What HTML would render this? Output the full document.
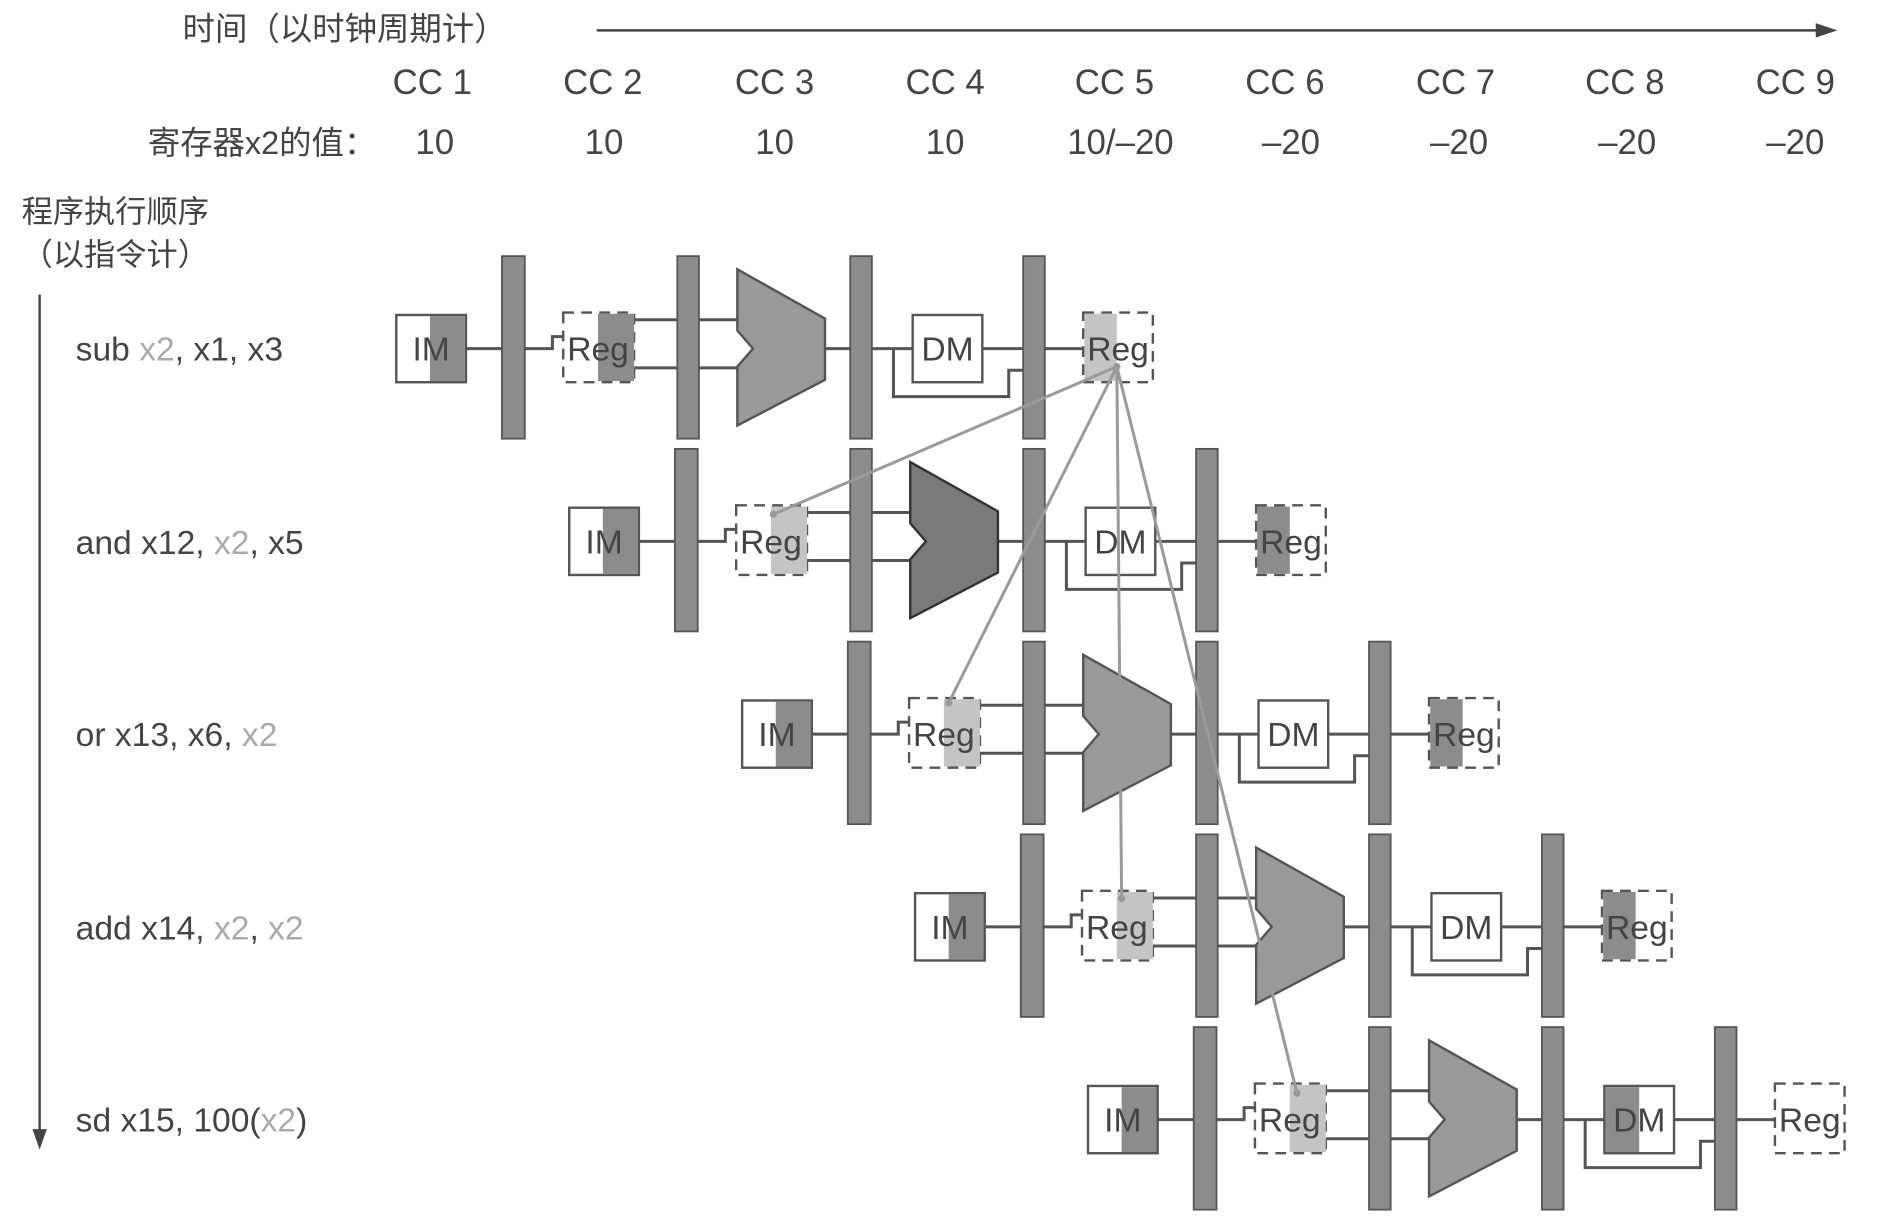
<!DOCTYPE html>
<html><head><meta charset="utf-8"><style>
html,body{margin:0;padding:0;background:#fff}
svg{display:block}
text{font-family:"Liberation Sans","Noto Sans CJK SC",sans-serif;fill:#444}
.w{fill:none;stroke:#555;stroke-width:2.5}
.bar{fill:#8c8c8c;stroke:#555;stroke-width:1.5}
.box{fill:#fff;stroke:#555;stroke-width:2}
.dash{fill:#fff;stroke:#555;stroke-width:2;stroke-dasharray:9,6}
.dk{fill:#8c8c8c}
.lt{fill:#c4c4c4}
.alu{fill:#999;stroke:#555;stroke-width:2}
.u{font-size:28px;text-anchor:middle}
.g{fill:#aaa}
.dep{stroke:#9a9a9a;stroke-width:2.5;fill:none}
</style></head><body>
<svg width="1883" height="1228" viewBox="0 0 1568 1022" xmlns="http://www.w3.org/2000/svg">
<text x="152" y="33" font-size="27">时间（以时钟周期计）</text>
<path d="M497 25H1520" stroke="#444" stroke-width="2"/>
<path d="M1530 25L1512 19V31Z" fill="#444"/>
<g font-size="29" text-anchor="middle">
<text x="360" y="78">CC 1</text><text x="502" y="78">CC 2</text><text x="645" y="78">CC 3</text><text x="787" y="78">CC 4</text><text x="928" y="78">CC 5</text><text x="1070" y="78">CC 6</text><text x="1212" y="78">CC 7</text><text x="1353" y="78">CC 8</text><text x="1495" y="78">CC 9</text>
<text x="362" y="128">10</text><text x="503" y="128">10</text><text x="645" y="128">10</text><text x="787" y="128">10</text><text x="933" y="128">10/–20</text><text x="1075" y="128">–20</text><text x="1215" y="128">–20</text><text x="1355" y="128">–20</text><text x="1495" y="128">–20</text>
</g>
<text x="123" y="128" font-size="27">寄存器x2的值：</text>
<text x="18" y="185" font-size="26">程序执行顺序</text>
<text x="18" y="221" font-size="26">（以指令计）</text>
<path d="M33 245V945" stroke="#444" stroke-width="2"/>
<path d="M33 957L27 940H39Z" fill="#444"/>
<g font-size="28">
<text x="63" y="300">sub <tspan class="g">x2</tspan>, x1, x3</text>
<text x="63" y="461">and x12, <tspan class="g">x2</tspan>, x5</text>
<text x="63" y="621">or x13, x6, <tspan class="g">x2</tspan></text>
<text x="63" y="782">add x14, <tspan class="g">x2</tspan>, <tspan class="g">x2</tspan></text>
<text x="63" y="942">sd x15, 100(<tspan class="g">x2</tspan>)</text>
</g>

<!-- Row 1 -->
<g>
<path class="w" d="M388 290H418M437 290H460V280H469M528 266H614M528 306H614M687 290H760M818 290H852M744 290V330H840V308H852M870 290H902"/>
<rect class="box" x="330" y="262" width="58" height="56"/><rect class="dk" x="358" y="263" width="29" height="54"/><text class="u" x="359" y="300">IM</text>
<rect class="bar" x="418" y="213" width="19" height="152"/><rect class="bar" x="564" y="213" width="18" height="152"/><rect class="bar" x="708" y="213" width="18" height="152"/><rect class="bar" x="852" y="213" width="18" height="152"/>
<rect class="dash" x="469" y="260" width="59" height="58"/><rect class="dk" x="498" y="261" width="30" height="56"/><text class="u" x="498" y="300">Reg</text>
<polygon class="alu" points="614,224 687,265 687,316 614,354 614,305 627,290 614,275"/>
<rect class="box" x="760" y="262" width="58" height="56"/><text class="u" x="789" y="300">DM</text>
<rect class="dash" x="902" y="260" width="58" height="58"/><rect class="lt" x="903" y="261" width="27" height="56"/><text class="u" x="931" y="300">Reg</text>
</g>
<!-- Row 2 -->
<g transform="translate(144,160.5)">
<path class="w" d="M388 290H418M437 290H460V280H469M528 266H614M528 306H614M687 290H760M818 290H852M744 290V330H840V308H852M870 290H902"/>
<rect class="box" x="330" y="262" width="58" height="56"/><rect class="dk" x="358" y="263" width="29" height="54"/><text class="u" x="359" y="300">IM</text>
<rect class="bar" x="418" y="213" width="19" height="152"/><rect class="bar" x="564" y="213" width="18" height="152"/><rect class="bar" x="708" y="213" width="18" height="152"/><rect class="bar" x="852" y="213" width="18" height="152"/>
<rect class="dash" x="469" y="260" width="59" height="58"/><rect class="lt" x="498" y="261" width="30" height="56"/><text class="u" x="498" y="300">Reg</text>
<polygon class="alu" style="fill:#7a7a7a;stroke:#333" points="614,224 687,265 687,316 614,354 614,305 627,290 614,275"/>
<rect class="box" x="760" y="262" width="58" height="56"/><text class="u" x="789" y="300">DM</text>
<rect class="dash" x="902" y="260" width="58" height="58"/><rect class="dk" x="903" y="261" width="27" height="56"/><text class="u" x="931" y="300">Reg</text>
</g>
<!-- Row 3 -->
<g transform="translate(288,321)">
<path class="w" d="M388 290H418M437 290H460V280H469M528 266H614M528 306H614M687 290H760M818 290H852M744 290V330H840V308H852M870 290H902"/>
<rect class="box" x="330" y="262" width="58" height="56"/><rect class="dk" x="358" y="263" width="29" height="54"/><text class="u" x="359" y="300">IM</text>
<rect class="bar" x="418" y="213" width="19" height="152"/><rect class="bar" x="564" y="213" width="18" height="152"/><rect class="bar" x="708" y="213" width="18" height="152"/><rect class="bar" x="852" y="213" width="18" height="152"/>
<rect class="dash" x="469" y="260" width="59" height="58"/><rect class="lt" x="498" y="261" width="30" height="56"/><text class="u" x="498" y="300">Reg</text>
<polygon class="alu" points="614,224 687,265 687,316 614,354 614,305 627,290 614,275"/>
<rect class="box" x="760" y="262" width="58" height="56"/><text class="u" x="789" y="300">DM</text>
<rect class="dash" x="902" y="260" width="58" height="58"/><rect class="dk" x="903" y="261" width="27" height="56"/><text class="u" x="931" y="300">Reg</text>
</g>
<!-- Row 4 -->
<g transform="translate(432,481.5)">
<path class="w" d="M388 290H418M437 290H460V280H469M528 266H614M528 306H614M687 290H760M818 290H852M744 290V330H840V308H852M870 290H902"/>
<rect class="box" x="330" y="262" width="58" height="56"/><rect class="dk" x="358" y="263" width="29" height="54"/><text class="u" x="359" y="300">IM</text>
<rect class="bar" x="418" y="213" width="19" height="152"/><rect class="bar" x="564" y="213" width="18" height="152"/><rect class="bar" x="708" y="213" width="18" height="152"/><rect class="bar" x="852" y="213" width="18" height="152"/>
<rect class="dash" x="469" y="260" width="59" height="58"/><rect class="lt" x="498" y="261" width="30" height="56"/><text class="u" x="498" y="300">Reg</text>
<polygon class="alu" points="614,224 687,265 687,316 614,354 614,305 627,290 614,275"/>
<rect class="box" x="760" y="262" width="58" height="56"/><text class="u" x="789" y="300">DM</text>
<rect class="dash" x="902" y="260" width="58" height="58"/><rect class="dk" x="903" y="261" width="27" height="56"/><text class="u" x="931" y="300">Reg</text>
</g>
<!-- Row 5 -->
<g transform="translate(576,642)">
<path class="w" d="M388 290H418M437 290H460V280H469M528 266H614M528 306H614M687 290H760M818 290H852M744 290V330H840V308H852M870 290H902"/>
<rect class="box" x="330" y="262" width="58" height="56"/><rect class="dk" x="358" y="263" width="29" height="54"/><text class="u" x="359" y="300">IM</text>
<rect class="bar" x="418" y="213" width="19" height="152"/><rect class="bar" x="564" y="213" width="18" height="152"/><rect class="bar" x="708" y="213" width="18" height="152"/><rect class="bar" x="852" y="213" width="18" height="152"/>
<rect class="dash" x="469" y="260" width="59" height="58"/><rect class="lt" x="498" y="261" width="30" height="56"/><text class="u" x="498" y="300">Reg</text>
<polygon class="alu" points="614,224 687,265 687,316 614,354 614,305 627,290 614,275"/>
<rect class="box" x="760" y="262" width="58" height="56"/><rect class="dk" x="761" y="263" width="28" height="54"/><text class="u" x="789" y="300">DM</text>
<rect class="dash" x="902" y="260" width="58" height="58"/><text class="u" x="931" y="300">Reg</text>
</g>
<!-- dependencies -->
<g class="dep">
<path d="M930 305L644 428M930 305L790 585M930 305L934 748M930 305L1080 910"/>
</g>
<g fill="#999"><circle cx="930" cy="305" r="3"/><circle cx="644" cy="428" r="3"/><circle cx="790" cy="585" r="3"/><circle cx="934" cy="748" r="3"/><circle cx="1080" cy="910" r="3"/></g>
</svg>
</body></html>
